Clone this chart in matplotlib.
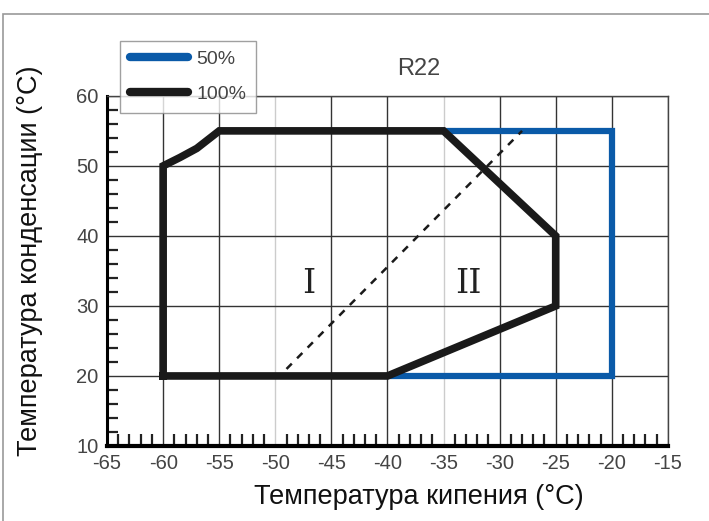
import numpy as np
import matplotlib.pyplot as plt
from matplotlib.lines import Line2D
from matplotlib.patches import Rectangle

# envelope at 100% load (black)
full_t0 = [-60, -60, -58.5, -57, -55, -35, -25, -25, -40, -60]
full_tc = [20, 50, 51.2, 52.5, 55, 55, 40, 30, 20, 20]

# envelope at 50% load (blue)
half_t0 = [-35, -20, -20, -40]
half_tc = [55, 55, 20, 20]

# zone border (dashed)
border_t0 = [-49, -28]
border_tc = [21, 55]

xticks = [-65, -60, -55, -50, -45, -40, -35, -30, -25, -20, -15]
yticks = [10, 20, 30, 40, 50, 60]

plt.rcParams['font.family'] = ['Liberation Sans', 'DejaVu Sans']
plt.rcParams['axes.unicode_minus'] = False

fig = plt.figure(figsize=(7.09, 5.21), dpi=100)
ax = fig.add_axes([0.151, 0.144, 0.791, 0.672])

# outer frame of the picture
fig.patches.append(Rectangle((0.004, -0.01), 1.1, 0.983, transform=fig.transFigure,
                             fill=False, edgecolor='#999999', linewidth=1.2))

ax.set_xlim(-65, -15)
ax.set_ylim(10, 60)
ax.set_xticks(xticks)
ax.set_yticks(yticks)
ax.set_xticks(np.arange(-64, -15, 1), minor=True)
ax.set_yticks(np.arange(12, 60, 2), minor=True)

for x in xticks[1:]:
    c = '#cccccc' if x in (-50, -35) else '#333333'
    ax.axvline(x, color=c, lw=1.0, zorder=1)
for y in yticks[1:]:
    ax.axhline(y, color='#333333', lw=1.0, zorder=1)

ax.tick_params(axis='both', which='major', length=0, labelsize=14.5, labelcolor='#444444', pad=6)
ax.tick_params(axis='x', which='minor', direction='in', length=9, width=1.6, color='#222222')
ax.tick_params(axis='y', which='minor', direction='in', length=8, width=1.6, color='#222222')

ax.spines['left'].set_linewidth(2.2)
ax.spines['bottom'].set_linewidth(3)
ax.spines['top'].set_linewidth(1)
ax.spines['right'].set_linewidth(1)
ax.spines['top'].set_color('#444444')
ax.spines['right'].set_color('#444444')

ax.plot(half_t0, half_tc, color='#0a5aa8', lw=4.5, solid_joinstyle='miter', zorder=3)
ax.plot(full_t0, full_tc, color='#1a1a1a', lw=5.5, solid_joinstyle='miter', zorder=4)
ax.plot(border_t0, border_tc, color='#1a1a1a', lw=1.8, ls=(0, (3, 3)), zorder=3)

ax.text(-47, 33.2, 'I', fontsize=24, family='DejaVu Serif', ha='center', va='center', color='#222222')
ax.text(-32.8, 33.2, 'II', fontsize=24, family='DejaVu Serif', ha='center', va='center', color='#222222')

fig.text(0.59, 0.868, 'R22', fontsize=17, color='#444444', ha='center', va='center')
fig.text(0.591, 0.047, 'Температура кипения (°C)', fontsize=19.5, color='#111111',
         ha='center', va='center')
fig.text(0.043, 0.5, 'Температура конденсации (°C)', fontsize=19.5, color='#111111',
         ha='center', va='center', rotation=90)

handles = [Line2D([], [], color='#0a5aa8', lw=6, solid_capstyle='round'),
           Line2D([], [], color='#1a1a1a', lw=6, solid_capstyle='round')]
leg = fig.legend(handles, ['50%', '100%'], loc='upper left', bbox_to_anchor=(0.169, 0.922),
                 fontsize=14, frameon=True, fancybox=False, handlelength=3.0,
                 handletextpad=0.45, borderpad=0.5, labelspacing=0.9, borderaxespad=0)
leg.get_frame().set_edgecolor('#888888')
leg.get_frame().set_linewidth(1)
for t in leg.get_texts():
    t.set_color('#444444')

fig.savefig('out.png', dpi=100)
